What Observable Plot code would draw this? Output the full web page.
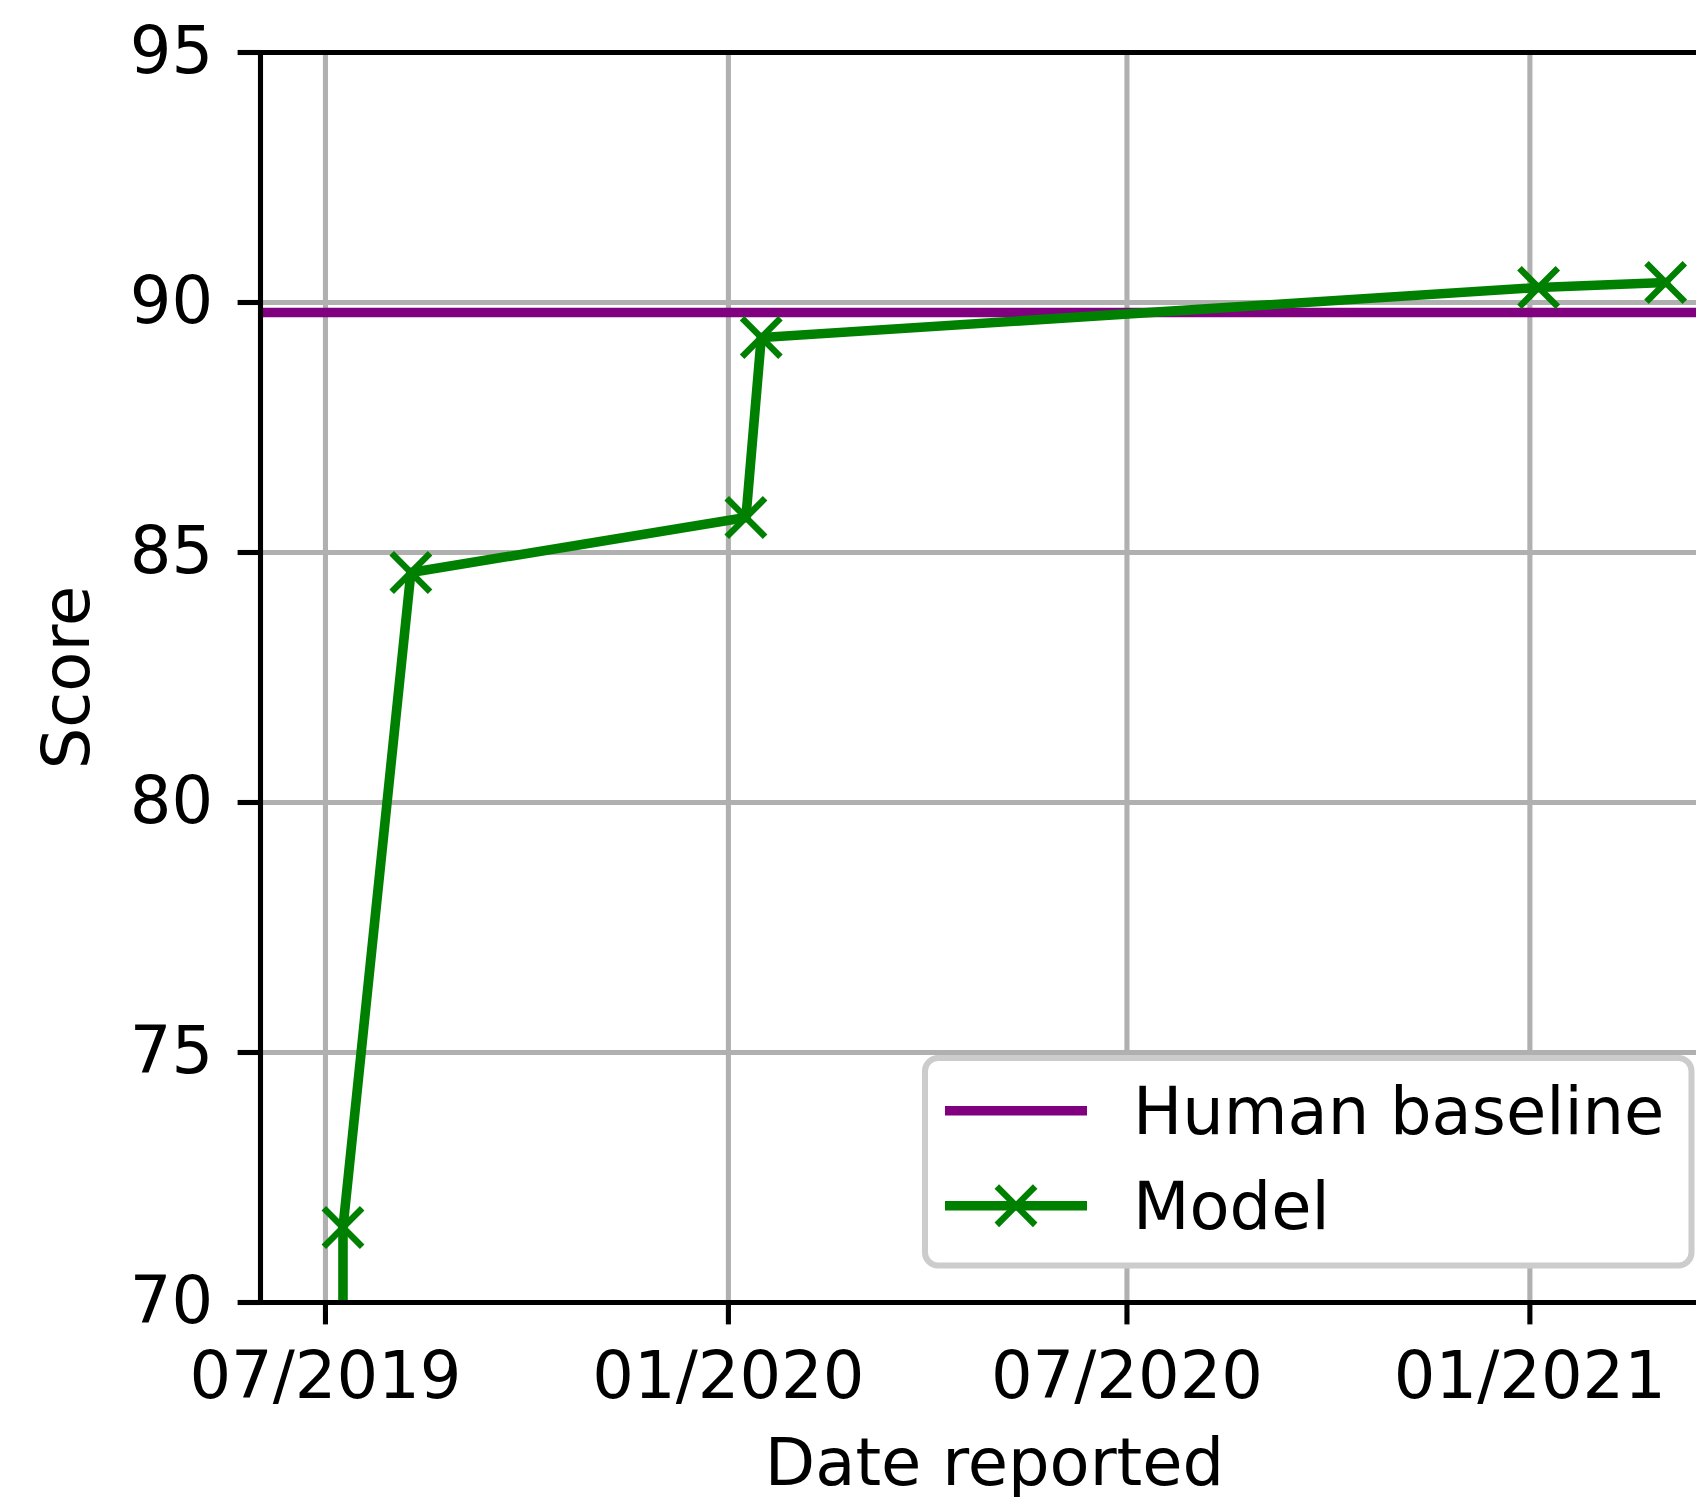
<!DOCTYPE html>
<html>
<head>
<meta charset="utf-8">
<script src="https://cdn.jsdelivr.net/npm/d3@7"></script>
<script src="https://cdn.jsdelivr.net/npm/@observablehq/plot@0.6"></script>
<style>
  html, body { margin: 0; padding: 0; background: white; }
  #wrap { position: relative; width: 1696px; height: 1497px; overflow: hidden; }
  #legend { position: absolute; left: 0; top: 0; }
</style>
</head>
<body>
<div id="wrap"></div>
<script>
// ---- data ----
const modelDates  = ["2019-07-09", "2019-07-09", "2019-08-09", "2020-01-09", "2020-01-16", "2021-01-05", "2021-03-04"];
const modelScores = [69.0, 71.5, 84.6, 85.7, 89.3, 90.3, 90.4];
const humanBaseline = [89.8];
const xTickDates = ["2019-07-01", "2020-01-01", "2020-07-01", "2021-01-01"];
const yTicks = [70, 75, 80, 85, 90, 95];
const xDomain = ["2019-06-01T08:00Z", "2021-03-18T02:00Z"];
const yDomain = [70, 95];
const xLabel = ["Date reported"];
const yLabel = "Score";
const legendLabels = ["Human baseline", "Model"];
const legendColors = ["purple", "green"];

const model = modelDates.map((d, i) => ({date: new Date(d), score: modelScores[i]}));
const xTicks = xTickDates.map(d => new Date(d));
const xDom = xDomain.map(d => new Date(d));

const FONT = "DejaVu Sans";
const FS = 65.5;
const gridStyle = {stroke: "#b0b0b0", strokeOpacity: 1, strokeWidth: 5.1};
const spine = {stroke: "black", strokeWidth: 5.1};

const chart = Plot.plot({
  width: 1696,
  height: 1497,
  marginLeft: 260,
  marginRight: 0,
  marginTop: 52,
  marginBottom: 195,
  style: {fontFamily: FONT, fontSize: FS + "px", color: "black", background: "white"},
  x: {type: "utc", domain: xDom},
  y: {domain: yDomain},
  marks: [
    Plot.gridX(xTicks, gridStyle),
    Plot.gridY(yTicks, gridStyle),
    Plot.ruleY(humanBaseline, {stroke: "purple", strokeWidth: 9.6}),
    Plot.line(model, {x: "date", y: "score", stroke: "green", strokeWidth: 9.6, clip: true}),
    Plot.dot(model, {x: "date", y: "score", symbol: "times", r: 17.5, stroke: "green", strokeWidth: 6.4, clip: true}),
    Plot.ruleX([xDom[0]], spine),
    Plot.ruleY([yDomain[0]], spine),
    Plot.ruleY([yDomain[1]], spine),
    Plot.axisX(xTicks, {
      tickSize: 22.4, tickPadding: 27, strokeWidth: 5.1,
      tickFormat: d3.utcFormat("%m/%Y"),
      fontSize: FS,
      label: null
    }),
    // x-axis title, centred on the (wider, cropped) matplotlib axes
    Plot.text(xLabel, {
      frameAnchor: "bottom", lineAnchor: "bottom",
      dx: 16, dy: 182, fontSize: FS, fill: "black"
    }),
    Plot.axisY(yTicks, {
      tickSize: 22.4, tickPadding: 25, strokeWidth: 5.1,
      tickFormat: d3.format("d"),
      fontSize: FS,
      label: yLabel, labelAnchor: "center", labelArrow: "none", labelOffset: 218
    })
  ]
});

const wrap = document.getElementById("wrap");
wrap.appendChild(chart);

// ---- legend (inside the axes, lower right) ----
const leg = d3.select(wrap).append("svg")
  .attr("id", "legend")
  .attr("width", 1696).attr("height", 1497)
  .style("font-family", FONT);

leg.append("rect")
  .attr("x", 925).attr("y", 1058)
  .attr("width", 766.5).attr("height", 207.5)
  .attr("rx", 13).attr("ry", 13)
  .attr("fill", "white")
  .attr("stroke", "#cccccc")
  .attr("stroke-width", 6);

const rowY = [1110.7, 1205.7];
legendLabels.forEach((lab, i) => {
  const g = leg.append("g");
  g.append("line")
    .attr("x1", 945).attr("x2", 1087)
    .attr("y1", rowY[i]).attr("y2", rowY[i])
    .attr("stroke", legendColors[i]).attr("stroke-width", 9.6);
  if (i === 1) {
    g.append("path")
      .attr("d", d3.symbol(d3.symbolTimes, Math.PI * 17.5 * 17.5)())
      .attr("transform", `translate(1016,${rowY[i]})`)
      .attr("fill", "none")
      .attr("stroke", legendColors[i]).attr("stroke-width", 6.4);
  }
  g.append("text")
    .attr("x", 1133).attr("y", rowY[i] + 23)
    .attr("font-size", FS)
    .attr("fill", "black")
    .text(lab);
});
</script>
</body>
</html>
